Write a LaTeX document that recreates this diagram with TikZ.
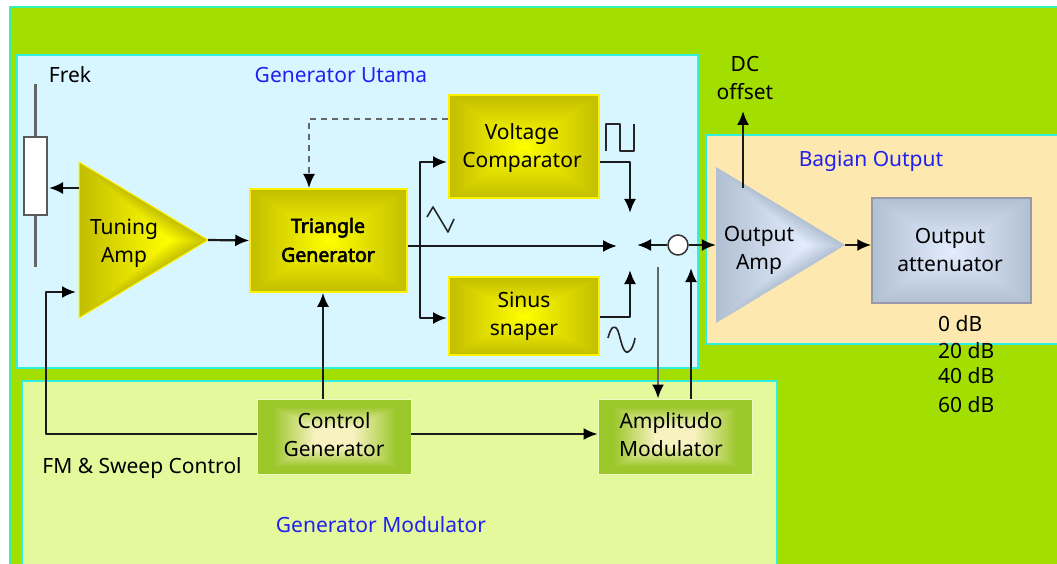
\documentclass[tikz,border=0pt]{standalone}
\usepackage{fontspec}
\setmainfont{Noto Sans}
\newfontfamily\heavyfont[FakeBold=3]{Noto Sans}
\usetikzlibrary{arrows.meta,calc}
\definecolor{bggreen}{HTML}{A2DE00}
\definecolor{edgecyan}{HTML}{35F0B0}
\definecolor{panelblue}{HTML}{D8F6FF}
\definecolor{panelcyan}{HTML}{30F0E0}
\definecolor{panelorange}{HTML}{FDE8B0}
\definecolor{panellime}{HTML}{E3F99C}
\definecolor{labelblue}{HTML}{2020F0}
\definecolor{wiredark}{HTML}{1A1A1A}
% rectangular path gradients: only the middle 50bp square of a shading is used
\pgfdeclarefunctionalshading{rectyellow}{\pgfpoint{0bp}{0bp}}{\pgfpoint{100bp}{100bp}}{}{
 50 sub abs exch 50 sub abs 2 copy lt {exch} if pop 25 div
 dup 1 gt {pop 1} if
 dup dup -0.24 mul 1 add 3 1 roll -0.26 mul 1 add exch 0 mul 0 add}
\pgfdeclarefunctionalshading{rectgreen}{\pgfpoint{0bp}{0bp}}{\pgfpoint{100bp}{100bp}}{}{
 50 sub abs exch 50 sub abs 2 copy lt {exch} if pop 25 div
 dup 1 gt {pop 1} if
 dup 0.25 lt {pop 0} {0.25 sub 0.55 div} ifelse
 dup 1 gt {pop 1} if
 dup dup -0.36 mul 0.97 add 3 1 roll -0.17 mul 0.95 add exch -0.58 mul 0.75 add}
\pgfdeclarefunctionalshading{rectsteel}{\pgfpoint{0bp}{0bp}}{\pgfpoint{100bp}{100bp}}{}{
 50 sub abs exch 50 sub abs 2 copy lt {exch} if pop 25 div
 dup 1 gt {pop 1} if
 dup dup -0.20 mul 0.89 add 3 1 roll -0.18 mul 0.93 add exch -0.18 mul 1 add}
\pgfdeclarefunctionalshading{triyellow}{\pgfpoint{0bp}{0bp}}{\pgfpoint{100bp}{100bp}}{}{
 25 sub 2 mul exch 25 sub 2 mul exch
 50 sub abs 50 exch sub exch dup 70 div 3 1 roll 2 div sub 15 div
 2 copy gt {exch} if pop 1 exch sub
 dup 0 lt {pop 0} if
 dup 1 gt {pop 1} if
 dup dup -0.24 mul 1 add 3 1 roll -0.26 mul 1 add exch 0 mul 0 add}
\pgfdeclarefunctionalshading{tristeel}{\pgfpoint{0bp}{0bp}}{\pgfpoint{100bp}{100bp}}{}{
 25 sub 2 mul exch 25 sub 2 mul exch
 50 sub abs 50 exch sub exch dup 70 div 3 1 roll 2 div sub 15 div
 2 copy gt {exch} if pop 1 exch sub
 dup 0 lt {pop 0} if
 dup 1 gt {pop 1} if
 dup dup -0.20 mul 0.89 add 3 1 roll -0.18 mul 0.93 add exch -0.18 mul 1 add}
\tikzset{
 blocktext/.style={anchor=center,align=center,inner sep=0pt,font=\fontsize{21}{28}\selectfont,text=black},
 yellowbox/.style={inner sep=0pt,shade,shading=rectyellow,draw=yellow,line width=1.5pt},
 greenbox/.style={inner sep=0pt,shade,shading=rectgreen,draw=white!40!panellime,line width=0.8pt},
 steelbox/.style={inner sep=0pt,shade,shading=rectsteel,draw=black!35!blue!15!gray!70,line width=1.5pt},
 ampframe/.style={inner sep=0pt,minimum width=129pt,minimum height=156pt},
 panel/.style={draw=panelcyan,line width=2pt},
 wire/.style={draw=wiredark,line width=2.2pt,line join=round},
 graywire/.style={draw=black!60,line width=2.4pt},
 tip/.style={-{Latex[length=14pt,width=12pt,black]}},
 plainlabel/.style={font=\fontsize{21}{28}\selectfont,text=black,inner sep=0pt,align=center},
 bluelabel/.style={font=\fontsize{21}{24}\selectfont,text=labelblue,inner sep=0pt},
 wave/.style={draw=black!85,line width=1.6pt,line join=round},
}
\begin{document}
\begin{tikzpicture}[x=1pt,y=-1pt]
\useasboundingbox (0,0) rectangle (1057,564);
\fill[white] (0,0) rectangle (1057,564);
% backgrounds
\filldraw[fill=bggreen,draw=edgecyan,line width=2pt] (10,7.5) rectangle (1070,580);
\filldraw[panel,fill=panelblue] (17,55) rectangle (698,368);
\filldraw[panel,fill=panelorange] (706,135) rectangle (1070,344);
\filldraw[panel,fill=panellime] (22,381) rectangle (777,580);
% amplifier triangles
\shadedraw[shading=triyellow,draw=yellow,line width=1pt] (79,162) -- (208,240) -- (79,318) -- cycle;
\shade[shading=tristeel] (716,167) -- (845,245) -- (716,323) -- cycle;
% blocks
\node[ampframe] (tuning) at (143.5,240) {};
\node[ampframe] (outamp) at (780.5,245) {};
\node[yellowbox,minimum width=157pt,minimum height=103pt] (tri) at (328.5,240.5) {};
\node[yellowbox,minimum width=150pt,minimum height=103pt] (volt) at (524,146.5) {};
\node[yellowbox,minimum width=150pt,minimum height=78pt] (sinus) at (524,316) {};
\node[greenbox,minimum width=154pt,minimum height=75pt] (ctrl) at (334,436.5) {};
\node[greenbox,minimum width=154pt,minimum height=75pt] (ampmod) at (675,436.5) {};
\node[steelbox,minimum width=159pt,minimum height=105pt] (atten) at (951.5,250.5) {};
\node[blocktext] (tuningtxt) at (124,243) {Tuning\\Amp};
\node[blocktext] (outamptxt) at (759,250) {Output\\Amp};
\node[blocktext,font=\fontsize{19.5}{29}\heavyfont] (tritxt) at (328,240) {Triangle\\Generator};
\node[blocktext] (volttxt) at (522,148.5) {Voltage\\Comparator};
\node[blocktext] (sinustxt) at (524,316) {Sinus\\snaper};
\node[blocktext] (ctrltxt) at (334,435) {Control\\Generator};
\node[blocktext] (ampmodtxt) at (671,435) {Amplitudo\\Modulator};
\node[blocktext] (attentxt) at (950,250) {Output\\attenuator};
% potentiometer
\coordinate (pottop) at (35.5,84);
\coordinate (potbot) at (35.5,267);
\node[draw=black!65,fill=white,line width=1.8pt,minimum width=23pt,minimum height=78pt,inner sep=0pt] (pot) at (35.5,176) {};
\draw[graywire] (pottop) -- (pot.north);
\draw[graywire] (pot.south) -- (potbot);
% free junction points
\coordinate (sumdn) at (630,213);
\coordinate (sumup) at (630,270);
\coordinate (sumin) at (617,246);
\coordinate (sumout) at (637,245);
\node[circle,draw=black!80,fill=white,line width=1.5pt,minimum size=20pt,inner sep=0pt] (junc) at (678,245) {};
\coordinate (dcend) at (743,111);
% connectors
\draw[wire,tip] ([yshift=52pt]tuning.west) -- (49,188);
\draw[wire,tip] (tuning.east) -- (tri.west);
\draw[wire,tip] (ctrl.west |- 0,434) -- (46,434) -- (46,292) -- (76,292);
\draw[graywire,line width=2pt,dash pattern=on 6pt off 5pt,tip] (volt.west |- 0,119) -- (309,119) -- (309,188);
\draw[wire,tip] (tri.east |- 0,246) -- (sumin);
\draw[wire,tip] (420,246) -- (420,162) -- (447,162);
\draw[wire,tip] (420,246) -- (420,318) -- (447,318);
\draw[wire,tip] (volt.east |- 0,162) -- (630,162) -- (sumdn);
\draw[wire,tip] (sinus.east |- 0,317) -- (630,317) -- (sumup);
\draw[wire,tip] (junc.west) -- (sumout);
\draw[wire,tip] (junc.east) -- (outamp.west |- junc.east);
\draw[graywire,tip] (658,267) -- (ampmod.north -| 658,0);
\draw[wire,tip] (ampmod.north -| 691,0) -- (691,268);
\draw[wire,tip] (ctrl.north -| 323,0) -- (tri.south -| 323,0);
\draw[wire,tip] (ctrl.east |- 0,434) -- (ampmod.west |- 0,434);
\draw[wire,tip] (outamp.east) -- (atten.west |- outamp.east);
\draw[wire,tip] (743,188) -- (dcend);
% waveforms
\draw[wave] (606,151) -- (606,124) -- (620,124) -- (620,151) -- (634,151) -- (634,124);
\draw[wave] (427,217) -- (433,207) -- (448,232) -- (454,219);
\draw[wave] (608,338) .. controls (611,326) and (615,324) .. (618,331) .. controls (621,340) and (623,354) .. (628,352) .. controls (632,350) and (634,344) .. (635,338);
% labels
\node[plainlabel] (frek) at (70,75) {Frek};
\node[bluelabel] (gu) at (341,75) {Generator Utama};
\node[plainlabel] (dc) at (745,78) {DC\\offset};
\node[bluelabel] (bo) at (871,161) {Bagian Output};
\node[plainlabel,anchor=west] (db0) at (938,324) {0 dB};
\node[plainlabel,anchor=west] (db20) at (938,351) {20 dB};
\node[plainlabel,anchor=west] (db40) at (938,376) {40 dB};
\node[plainlabel,anchor=west] (db60) at (938,405) {60 dB};
\node[plainlabel] (fm) at (142,468) {FM \& Sweep Control};
\node[bluelabel] (gm) at (381,525) {Generator Modulator};
\end{tikzpicture}
\end{document}
